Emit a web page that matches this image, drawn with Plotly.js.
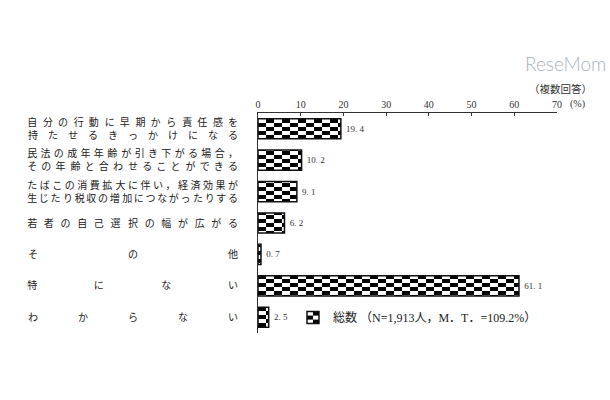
<!DOCTYPE html>
<html>
<head>
<meta charset="utf-8">
<script src="https://cdn.plot.ly/plotly-3.0.1.min.js"></script>
<style>html,body{margin:0;padding:0;background:#fff;}#chart{width:610px;height:400px;}</style>
</head>
<body>
<div id="chart"></div>
<script>
// ---- data ----
var categoryLines = [
  ['自分の行動に早期から責任感を', '持たせるきっかけになる'],
  ['民法の成年年齢が引き下がる場合，', 'その年齢と合わせることができる'],
  ['たばこの消費拡大に伴い，経済効果が', '生じたり税収の増加につながったりする'],
  ['若者の自己選択の幅が広がる'],
  ['その他'],
  ['特にない'],
  ['わからない']
];
var values = [19.4, 10.2, 9.1, 6.2, 0.7, 61.1, 2.5];
var seriesName = '総数 （N=1,913人，M．T．=109.2%）';
var xTicks = [0, 10, 20, 30, 40, 50, 60, 70];

// ---- justified label text (均等割付) using fixed-width Unicode spaces ----
var LABEL_FS = 10, LABEL_W = 211;
var SP = {IS: '\u3000', EN: '\u2002', E3: '\u2004', E4: '\u2005', E6: '\u2006'};
var REM = ['', '', SP.E6, SP.E4, SP.E3, SP.E4 + SP.E6, SP.EN, SP.E3 + SP.E4,
           SP.EN + SP.E6, SP.EN + SP.E4, SP.EN + SP.E3, SP.EN + SP.E4 + SP.E6];
function justify(s) {
  var ch = Array.from(s), n = ch.length;
  if (n < 2) return s;
  var gapEm = (LABEL_W - n * LABEL_FS) / LABEL_FS / (n - 1);
  var out = ch[0], actual = 0;
  for (var i = 1; i < n; i++) {
    var need = i * gapEm - actual;
    var k = Math.max(0, Math.round(need * 12));
    if (k % 12 === 1) k -= 1;
    var str = SP.IS.repeat(Math.floor(k / 12)) + REM[k % 12];
    actual += k / 12;
    out += str + ch[i];
  }
  return out;
}
var categories = categoryLines.map(function (lines) { return lines.map(justify).join('<br>'); });
var valueText = values.map(function (v) { return '\u2005' + v.toFixed(1).replace('.', '. '); });

var trace = {
  type: 'bar',
  orientation: 'h',
  x: values,
  y: categories,
  name: seriesName,
  text: valueText,
  textposition: 'outside',
  cliponaxis: false,
  textfont: {family: 'Liberation Serif, serif', size: 9, color: '#333'},
  marker: {color: '#ffffff', line: {color: '#111', width: 1.5}},
  showlegend: true
};

var layout = {
  width: 610, height: 400,
  margin: {l: 258, r: 53, t: 113, b: 67},
  paper_bgcolor: '#fff', plot_bgcolor: '#fff',
  bargap: 0.36,
  font: {family: 'Liberation Serif, Noto Sans CJK JP, serif', color: '#222'},
  xaxis: {
    side: 'top', range: [0, 70], tickvals: xTicks, ticktext: xTicks.map(String),
    showline: true, linecolor: '#333', linewidth: 1,
    ticks: 'inside', ticklen: 3, tickcolor: '#333',
    showgrid: false, zeroline: false,
    tickfont: {family: 'Liberation Serif, serif', size: 10, color: '#333'}
  },
  yaxis: {
    type: 'category', range: [6.5, -0.5],
    showline: true, linecolor: '#333', linewidth: 1,
    ticks: '', showgrid: false, zeroline: false,
    ticklabelstandoff: 17,
    tickfont: {family: 'Liberation Serif, Noto Sans CJK JP, serif', size: LABEL_FS, color: '#222'}
  },
  legend: {
    x: 0.117, xanchor: 'left', y: 0.07, yanchor: 'middle',
    bgcolor: 'rgba(0,0,0,0)',
    font: {family: 'Liberation Serif, Noto Sans CJK JP, serif', size: 12, color: '#222'}
  },
  annotations: [
    {text: 'ReseMom', xref: 'paper', yref: 'paper', x: 1.03, y: 1.225, xanchor: 'center', yanchor: 'middle',
     showarrow: false, font: {family: 'Lato, sans-serif', size: 19, color: '#a9b3bd', weight: 300}},
    {text: '（複数回答）', xref: 'paper', yref: 'paper', x: 1.013, y: 1.111, xanchor: 'center', yanchor: 'middle',
     showarrow: false, font: {family: 'Liberation Serif, Noto Sans CJK JP, serif', size: 10.5, color: '#333'}},
    {text: '(%)', xref: 'paper', yref: 'paper', x: 1.07, y: 1.039, xanchor: 'center', yanchor: 'middle',
     showarrow: false, font: {family: 'Liberation Serif, serif', size: 10, color: '#333'}}
  ]
};

Plotly.newPlot('chart', [trace], layout, {displayModeBar: false, staticPlot: true}).then(function (gd) {
  var svg = gd.querySelector('svg.main-svg');
  var ns = 'http://www.w3.org/2000/svg';
  var defs = svg.querySelector('defs') || svg.insertBefore(document.createElementNS(ns, 'defs'), svg.firstChild);
  var pat = document.createElementNS(ns, 'pattern');
  pat.setAttribute('id', 'chk');
  pat.setAttribute('patternUnits', 'userSpaceOnUse');
  pat.setAttribute('width', '16');
  pat.setAttribute('height', '8');
  [[0, 0, 16, 8, '#fff'], [0, 2, 8, 4, '#000'], [8, 6, 8, 2, '#000'], [8, 0, 8, 2, '#000']].forEach(function (r) {
    var e = document.createElementNS(ns, 'rect');
    e.setAttribute('x', r[0]); e.setAttribute('y', r[1]);
    e.setAttribute('width', r[2]); e.setAttribute('height', r[3]);
    e.setAttribute('fill', r[4]);
    pat.appendChild(e);
  });
  defs.appendChild(pat);
  gd.querySelectorAll('.barlayer .point path, .legendpoints path').forEach(function (p) {
    p.style.fill = 'url(#chk)';
  });
});
</script>
</body>
</html>
